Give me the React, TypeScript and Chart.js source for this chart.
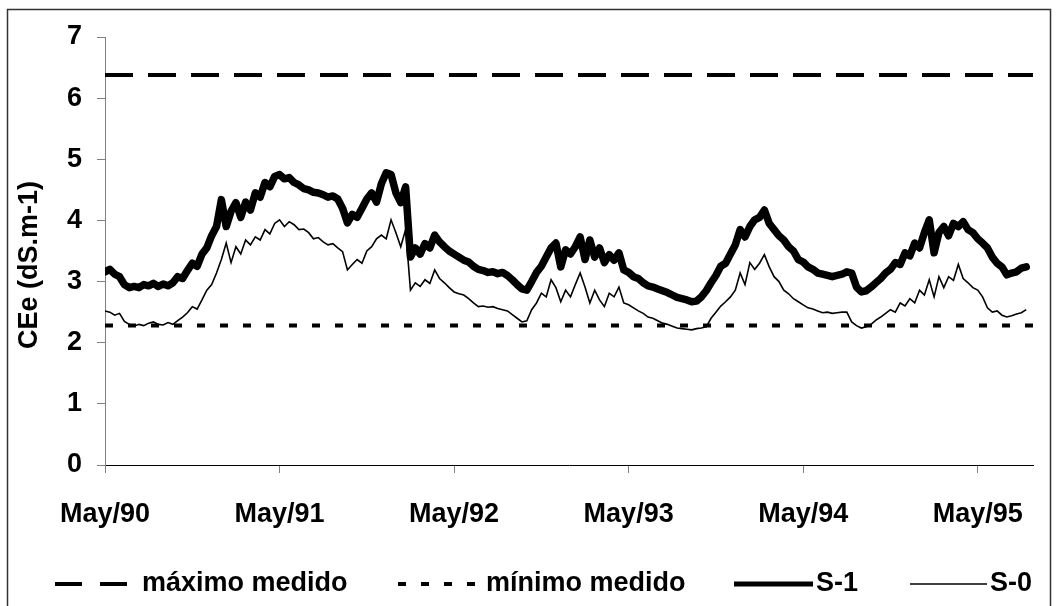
import React, { useEffect, useRef } from "react";
import { Chart, registerables } from "chart.js";

Chart.register(...registerables);

// ---- data ----
const tickLabels = ["May/90", "May/91", "May/92", "May/93", "May/94", "May/95"];
const tickMonths = [0, 12, 24, 36, 48, 60];
const axisMaxMonths = 63.8;
const stepMonths = 1 / 3; // sampling interval of the series (~10 days)

const seriesLabels = ["máximo medido", "mínimo medido", "S-1", "S-0"];
const maxMeasured = 6.38;
const minMeasured = 2.28;

const s1Values = [
  3.16, 3.20, 3.12, 3.08, 2.95, 2.90, 2.92, 2.90, 2.95, 2.93, 2.97, 2.92,
  2.96, 2.93, 2.98, 3.08, 3.05, 3.18, 3.30, 3.25, 3.45, 3.55, 3.75, 3.90,
  4.34, 3.90, 4.15, 4.29, 4.05, 4.30, 4.17, 4.45, 4.38, 4.62, 4.55, 4.72,
  4.75, 4.68, 4.70, 4.62, 4.58, 4.52, 4.50, 4.46, 4.45, 4.42, 4.38, 4.40,
  4.35, 4.20, 3.96, 4.10, 4.05, 4.20, 4.35, 4.45, 4.30, 4.60, 4.78, 4.75,
  4.45, 4.29, 4.55, 3.40, 3.55, 3.45, 3.62, 3.55, 3.76, 3.65, 3.57, 3.50,
  3.45, 3.40, 3.35, 3.32, 3.25, 3.20, 3.18, 3.15, 3.16, 3.13, 3.15, 3.10,
  3.03, 2.95, 2.88, 2.86, 3.00, 3.15, 3.25, 3.40, 3.55, 3.63, 3.24, 3.52,
  3.45, 3.57, 3.73, 3.36, 3.68, 3.40, 3.55, 3.31, 3.44, 3.35, 3.47, 3.19,
  3.15, 3.08, 3.05, 2.98, 2.93, 2.91, 2.88, 2.85, 2.82, 2.78, 2.74, 2.72,
  2.70, 2.67, 2.68, 2.75, 2.85, 2.98, 3.10, 3.25, 3.30, 3.45, 3.60, 3.85,
  3.73, 3.90, 4.01, 4.05, 4.17, 3.95, 3.85, 3.75, 3.68, 3.57, 3.50, 3.36,
  3.32, 3.24, 3.20, 3.14, 3.12, 3.10, 3.08, 3.10, 3.12, 3.16, 3.14, 2.91,
  2.83, 2.85, 2.91, 2.98, 3.05, 3.14, 3.20, 3.31, 3.28, 3.47, 3.42, 3.63,
  3.55, 3.80, 4.01, 3.47, 3.80, 3.90, 3.75, 3.95, 3.90, 3.98, 3.85, 3.80,
  3.70, 3.63, 3.55, 3.40, 3.30, 3.24, 3.11, 3.14, 3.16, 3.22, 3.24,
];

const s0Values = [
  2.52, 2.50, 2.45, 2.48, 2.35, 2.30, 2.27, 2.30, 2.28, 2.32, 2.34, 2.30,
  2.29, 2.33, 2.30, 2.36, 2.42, 2.49, 2.59, 2.55, 2.70, 2.86, 2.95, 3.14,
  3.36, 3.63, 3.31, 3.57, 3.45, 3.68, 3.60, 3.73, 3.68, 3.85, 3.78, 3.95,
  4.01, 3.90, 3.98, 3.93, 3.85, 3.86, 3.80, 3.70, 3.72, 3.65, 3.60, 3.62,
  3.55, 3.49, 3.19, 3.28, 3.36, 3.30, 3.50, 3.57, 3.70, 3.76, 3.70, 4.01,
  3.80, 3.57, 3.85, 2.86, 2.98, 2.92, 3.03, 2.97, 3.19, 3.05, 2.98, 2.90,
  2.83, 2.80, 2.78, 2.72, 2.65, 2.59, 2.60, 2.58, 2.59, 2.56, 2.54, 2.52,
  2.46, 2.40, 2.34, 2.36, 2.54, 2.65, 2.81, 2.75, 3.03, 2.90, 2.67, 2.86,
  2.75, 2.95, 3.14, 2.91, 2.65, 2.86, 2.70, 2.59, 2.81, 2.75, 2.91, 2.65,
  2.62, 2.57, 2.52, 2.48, 2.42, 2.40, 2.36, 2.32, 2.30, 2.27, 2.24, 2.23,
  2.22, 2.21, 2.23, 2.24, 2.26, 2.40, 2.50, 2.60, 2.67, 2.75, 2.86, 3.14,
  2.95, 3.31, 3.20, 3.30, 3.44, 3.24, 3.08, 3.00, 2.86, 2.80, 2.72, 2.67,
  2.62, 2.57, 2.55, 2.52, 2.49, 2.50, 2.48, 2.49, 2.50, 2.50, 2.34, 2.28,
  2.24, 2.26, 2.30, 2.37, 2.42, 2.48, 2.54, 2.50, 2.65, 2.60, 2.72, 2.65,
  2.86, 2.78, 3.03, 2.75, 3.08, 2.90, 3.08, 3.02, 3.28, 3.05, 2.98, 2.90,
  2.86, 2.75, 2.57, 2.50, 2.52, 2.45, 2.42, 2.44, 2.47, 2.49, 2.54,
];

const yTitle = "CEe (dS.m-1)";

// ---- styling ----
const FONT = "'Liberation Sans', Arial, sans-serif";
const FONT_SIZE = 27;

const toPoints = (vals: number[]) => vals.map((v, i) => ({ x: i * stepMonths, y: v }));

const legendItems = [
  { x0: 55, x1: 127, dash: [27, 18], width: 4, textX: 142 },
  { x0: 398, x1: 478, dash: [8, 15], width: 4, textX: 486 },
  { x0: 734, x1: 813, dash: [], width: 5, textX: 816 },
  { x0: 910, x1: 987, dash: [], width: 1.6, textX: 990 },
];

const customPlugin = {
  id: "frameAndLegend",
  afterDraw(chart: any) {
    const ctx = chart.ctx as CanvasRenderingContext2D;
    ctx.save();
    ctx.strokeStyle = "#333";
    ctx.lineWidth = 1.5;
    ctx.strokeRect(7.5, 9.5, 1043, 620);
    ctx.font = `bold ${FONT_SIZE}px ${FONT}`;
    ctx.fillStyle = "#000";
    // y-axis title
    ctx.save();
    ctx.translate(30, 265);
    ctx.rotate(-Math.PI / 2);
    ctx.textAlign = "center";
    ctx.textBaseline = "middle";
    ctx.fillText(yTitle, 0, 0);
    ctx.restore();
    // legend
    const y = 584;
    ctx.textBaseline = "middle";
    ctx.textAlign = "left";
    legendItems.forEach((it, i) => {
      ctx.beginPath();
      ctx.setLineDash(it.dash);
      ctx.lineWidth = it.width;
      ctx.strokeStyle = "#000";
      ctx.lineCap = "butt";
      ctx.moveTo(it.x0, y);
      ctx.lineTo(it.x1, y);
      ctx.stroke();
      ctx.setLineDash([]);
      ctx.fillText(chart.data.datasets[i].label, it.textX, y);
    });
    ctx.restore();
  },
};

export default function App() {
  const canvasRef = useRef<HTMLCanvasElement | null>(null);

  useEffect(() => {
    if (!canvasRef.current) return;
    const chart = new Chart(canvasRef.current, {
      type: "line",
      data: {
        datasets: [
          {
            label: seriesLabels[0],
            data: [
              { x: 0, y: maxMeasured },
              { x: axisMaxMonths, y: maxMeasured },
            ],
            borderColor: "#000",
            borderWidth: 4,
            borderDash: [28, 15],
            pointRadius: 0,
          },
          {
            label: seriesLabels[1],
            data: [
              { x: 0, y: minMeasured },
              { x: axisMaxMonths, y: minMeasured },
            ],
            borderColor: "#000",
            borderWidth: 4,
            borderDash: [8, 15],
            pointRadius: 0,
          },
          {
            label: seriesLabels[2],
            data: toPoints(s1Values),
            borderColor: "#000",
            borderWidth: 7.5,
            borderJoinStyle: "round",
            borderCapStyle: "round",
            pointRadius: 0,
            tension: 0,
          },
          {
            label: seriesLabels[3],
            data: toPoints(s0Values),
            borderColor: "#000",
            borderWidth: 1.6,
            pointRadius: 0,
            tension: 0,
          },
        ],
      },
      options: {
        animation: false,
        responsive: false,
        devicePixelRatio: 1,
        layout: { padding: { left: 0, right: 25, top: 37, bottom: 0 } },
        plugins: { legend: { display: false }, tooltip: { enabled: false } },
        scales: {
          x: {
            type: "linear",
            min: 0,
            max: axisMaxMonths,
            afterBuildTicks: (s: any) => {
              s.ticks = tickMonths.map((v) => ({ value: v }));
            },
            afterFit: (s: any) => {
              s.height = 141;
            },
            ticks: {
              autoSkip: false,
              maxRotation: 0,
              padding: 25,
              color: "#000",
              font: { family: FONT, size: FONT_SIZE, weight: "bold" },
              callback: (_v: any, i: number) => tickLabels[i],
            },
            grid: { drawOnChartArea: false, drawTicks: true, tickLength: 8, color: "#808080" },
            border: { color: "#000", width: 1 },
          },
          y: {
            min: 0,
            max: 7,
            afterFit: (s: any) => {
              s.width = 105;
            },
            ticks: {
              stepSize: 1,
              padding: 15,
              color: "#000",
              font: { family: FONT, size: FONT_SIZE, weight: "bold" },
            },
            grid: { drawOnChartArea: false, drawTicks: true, tickLength: 8, color: "#808080" },
            border: { color: "#808080", width: 1 },
          },
        },
      },
      plugins: [customPlugin],
    });
    return () => chart.destroy();
  }, []);

  return (
    <div style={{ position: "absolute", left: 0, top: 0, width: 1058, height: 606, background: "#fff" }}>
      <canvas ref={canvasRef} width={1058} height={606} style={{ display: "block" }} />
    </div>
  );
}
